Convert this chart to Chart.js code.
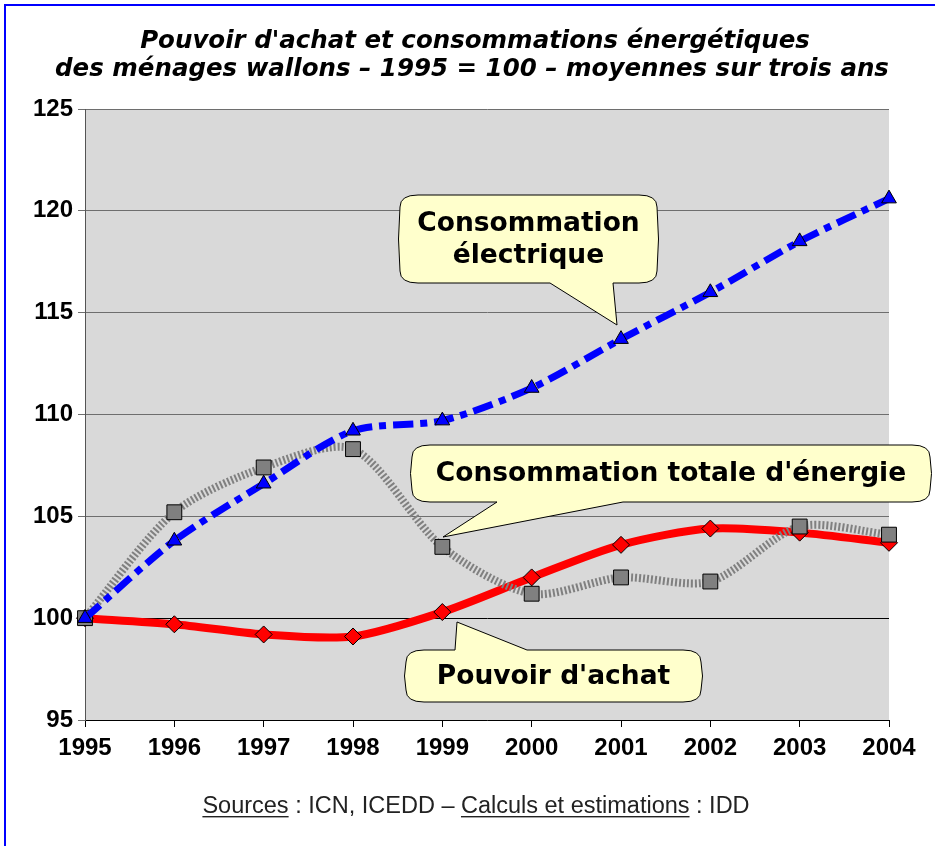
<!DOCTYPE html>
<html>
<head>
<meta charset="utf-8">
<script src="https://cdn.jsdelivr.net/npm/chart.js@4/dist/chart.umd.min.js"></script>
<style>
  html, body { margin: 0; padding: 0; background: #fff; }
  #wrap { width: 935px; height: 846px; position: relative; }
</style>
</head>
<body>
<div id="wrap"><canvas id="chart" width="935" height="846"></canvas></div>
<script>
// --- données (1995 = 100, moyennes sur trois ans) ---
const annees = ['1995', '1996', '1997', '1998', '1999', '2000', '2001', '2002', '2003', '2004'];
const pouvoirAchat = [100, 99.7, 99.2, 99.1, 100.3, 102.0, 103.6, 104.4, 104.2, 103.7];
const consoTotale = [100, 105.2, 107.4, 108.3, 103.5, 101.2, 102.0, 101.8, 104.5, 104.1];
const consoElec = [100, 103.8, 106.6, 109.2, 109.7, 111.3, 113.7, 116.0, 118.5, 120.6];
const yTicks = [95, 100, 105, 110, 115, 120, 125];

const titre = [
  "Pouvoir d'achat et consommations énergétiques",
  "des ménages wallons \u2013 1995 = 100 \u2013 moyennes sur trois ans"
];

// bulles : boîte + pointe (en pixels du canevas)
const bulles = [
  { lignes: ['Consommation', 'électrique'], box: [400, 195, 657, 283], side: 'bottom', base: [550, 613], tip: [617, 325] },
  { lignes: ["Consommation totale d'énergie"], box: [412, 445, 930, 502], side: 'bottom', base: [497, 623], tip: [443, 537] },
  { lignes: ["Pouvoir d'achat"], box: [406, 650, 701, 702], side: 'top', base: [455, 527], tip: [457, 622] }
];

const tickFont = { family: "'Liberation Sans', Arial, sans-serif", size: 24, weight: 'bold' };

function bubblePath(ctx, b) {
  const [x0, y0, x1, y1] = b.box;
  const rx = 18, ry = 12;
  ctx.beginPath();
  ctx.moveTo(x0 + rx, y0);
  if (b.side === 'top') {
    ctx.lineTo(b.base[0], y0);
    ctx.lineTo(b.tip[0], b.tip[1]);
    ctx.lineTo(b.base[1], y0);
  }
  ctx.lineTo(x1 - rx, y0);
  ctx.quadraticCurveTo(x1, y0, x1, y0 + ry);
  ctx.quadraticCurveTo(x1 + 3, (y0 + y1) / 2, x1, y1 - ry);
  ctx.quadraticCurveTo(x1, y1, x1 - rx, y1);
  if (b.side === 'bottom') {
    ctx.lineTo(b.base[1], y1);
    ctx.lineTo(b.tip[0], b.tip[1]);
    ctx.lineTo(b.base[0], y1);
  }
  ctx.lineTo(x0 + rx, y1);
  ctx.quadraticCurveTo(x0, y1, x0, y1 - ry);
  ctx.quadraticCurveTo(x0 - 3, (y0 + y1) / 2, x0, y0 + ry);
  ctx.quadraticCurveTo(x0, y0, x0 + rx, y0);
  ctx.closePath();
}

const decor = {
  id: 'decor',
  beforeDraw(chart) {
    const { ctx, chartArea: a } = chart;
    ctx.save();
    ctx.fillStyle = '#fff';
    ctx.fillRect(0, 0, chart.width, chart.height);
    ctx.fillStyle = '#d9d9d9';
    ctx.fillRect(a.left, a.top, a.right - a.left, a.bottom - a.top);
    // cadre bleu
    ctx.fillStyle = '#0000ff';
    ctx.fillRect(4, 4, chart.width - 4, 2);
    ctx.fillRect(4, 4, 2, chart.height - 4);
    // titre
    ctx.fillStyle = '#000';
    ctx.textAlign = 'center';
    ctx.textBaseline = 'alphabetic';
    ctx.font = "italic bold 24.5px 'DejaVu Sans', Verdana, sans-serif";
    ctx.fillText(titre[0], 475, 48);
    ctx.fillText(titre[1], 472, 76);
    // sources
    ctx.font = "23.5px 'Liberation Sans', Arial, sans-serif";
    ctx.fillStyle = '#222';
    const parts = [['Sources', true], [' : ICN, ICEDD \u2013 ', false], ['Calculs et estimations', true], [' : IDD', false]];
    const total = parts.reduce((s, p) => s + ctx.measureText(p[0]).width, 0);
    let x = 476 - total / 2;
    const yb = 813;
    ctx.textAlign = 'left';
    parts.forEach(([t, u]) => {
      const w = ctx.measureText(t).width;
      ctx.fillText(t, x, yb);
      if (u) ctx.fillRect(x, yb + 3, w, 1.4);
      x += w;
    });
    ctx.restore();
  },
  afterDraw(chart) {
    const { ctx } = chart;
    ctx.save();
    bulles.forEach(b => {
      bubblePath(ctx, b);
      ctx.fillStyle = '#ffffcc';
      ctx.fill();
      ctx.lineWidth = 1;
      ctx.strokeStyle = '#000';
      ctx.stroke();
      const [x0, y0, x1, y1] = b.box;
      ctx.fillStyle = '#000';
      ctx.font = "bold 26.5px 'DejaVu Sans', Verdana, sans-serif";
      ctx.textAlign = 'center';
      ctx.textBaseline = 'middle';
      const lh = 32;
      const cy = (y0 + y1) / 2 - (b.lignes.length - 1) * lh / 2;
      b.lignes.forEach((l, i) => ctx.fillText(l, (x0 + x1) / 2, cy + i * lh + 1));
    });
    ctx.restore();
  }
};

new Chart(document.getElementById('chart'), {
  type: 'line',
  data: {
    labels: annees,
    datasets: [
      {
        label: 'Consommation électrique',
        data: consoElec,
        order: 1,
        borderColor: '#0000ff',
        borderWidth: 7,
        borderDash: [20, 7, 7, 7],
        borderCapStyle: 'butt',
        pointStyle: 'triangle',
        pointRadius: 8.5,
        pointBackgroundColor: '#0000ff',
        pointBorderColor: '#000',
        pointBorderWidth: 1,
        tension: 0.28,
        clip: false
      },
      {
        label: "Consommation totale d'énergie",
        data: consoTotale,
        order: 2,
        borderColor: '#808080',
        borderWidth: 8,
        borderDash: [2, 2],
        borderCapStyle: 'butt',
        pointStyle: 'rect',
        pointRadius: 10.5,
        pointBackgroundColor: '#808080',
        pointBorderColor: '#000',
        pointBorderWidth: 1,
        tension: 0.28,
        clip: false
      },
      {
        label: "Pouvoir d'achat",
        data: pouvoirAchat,
        order: 3,
        borderColor: '#ff0000',
        borderWidth: 8,
        pointStyle: 'rectRot',
        pointRadius: 8.5,
        pointBackgroundColor: '#ff0000',
        pointBorderColor: '#000',
        pointBorderWidth: 1,
        tension: 0.28,
        clip: false
      }
    ]
  },
  options: {
    responsive: false,
    animation: false,
    devicePixelRatio: 1,
    layout: { padding: { top: 109, right: 46, left: 0, bottom: 81 } },
    plugins: { legend: { display: false }, tooltip: { enabled: false }, title: { display: false } },
    scales: {
      x: {
        offset: false,
        afterFit(s) { s.height = 45; },
        grid: { drawOnChartArea: false, drawTicks: true, tickLength: 7, color: '#000' },
        border: { color: '#000', width: 1 },
        ticks: { font: tickFont, color: '#000', padding: 7, maxRotation: 0, autoSkip: false }
      },
      y: {
        min: 95,
        max: 125,
        afterFit(s) { s.width = 85; },
        afterBuildTicks(s) { s.ticks = yTicks.map(v => ({ value: v })); },
        grid: {
          color: c => (c.tick && c.tick.value === 100) ? '#000' : '#6e6e6e',
          tickColor: '#6e6e6e',
          tickLength: 7,
          lineWidth: 1
        },
        border: { color: '#555', width: 1 },
        ticks: { font: tickFont, color: '#000', padding: 5 }
      }
    }
  },
  plugins: [decor]
});
</script>
</body>
</html>
